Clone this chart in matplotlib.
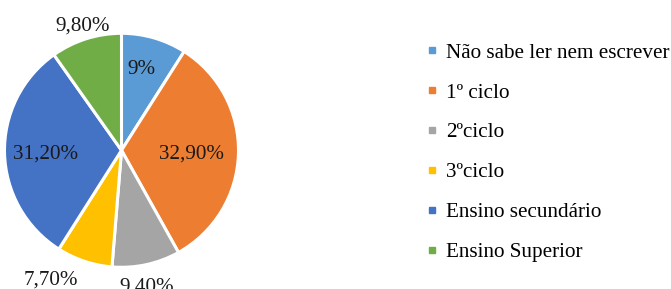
import numpy as np
import matplotlib.pyplot as plt
import matplotlib.transforms as mtransforms
from matplotlib.lines import Line2D

# data
categories = ["Não sabe ler nem escrever", "1º ciclo", "2ºciclo", "3ºciclo",
              "Ensino secundário", "Ensino Superior"]
values = [9.0, 32.9, 9.4, 7.7, 31.2, 9.8]
pct_labels = ["9%", "32,90%", "9,40%", "7,70%", "31,20%", "9,80%"]

colors = ["#5B9BD5", "#ED7D31", "#A5A5A5", "#FFC000", "#4472C4", "#70AD47"]
label_r = [0.73, 0.60, 1.17, 1.25, 0.65, 1.13]      # label distance from centre
label_turn = [2.4, 0.0, -1.6, -10.5, 0.0, -0.7]     # degrees off the wedge middle

plt.rcParams['font.family'] = ['Liberation Serif', 'DejaVu Serif']

W, H = 671, 289
fig = plt.figure(figsize=(W / 100, H / 100), dpi=100)

# pie centre in px from bottom-left, radius in px
R = 112.5
cx, cy = 121.5, 138.7
lim = 1.3
side = 2 * lim * R
ax = fig.add_axes([(cx - side / 2) / W, (cy - side / 2) / H, side / W, side / H])
ax.set_xlim(-lim, lim)
ax.set_ylim(-lim, lim)
ax.set_aspect('equal')
ax.axis('off')

wedges, _ = ax.pie(values, colors=colors, startangle=90, counterclock=False,
                   radius=1, wedgeprops=dict(edgecolor='white', linewidth=2.2))

# glyphs sit a little above the bbox centre, push them down ~2px
down = mtransforms.ScaledTranslation(0, -2 / 100, fig.dpi_scale_trans)
for w, lab, r, t in zip(wedges, pct_labels, label_r, label_turn):
    mid = np.radians((w.theta1 + w.theta2) / 2 + t)
    ax.text(r * np.cos(mid), r * np.sin(mid), lab, ha='center', va='center',
            fontsize=15.2, color='#1a1a1a', transform=ax.transData + down)

handles = [Line2D([], [], linestyle='none', marker='s', markersize=5,
                  markerfacecolor=c, markeredgecolor=c) for c in colors]
fig.legend(handles, categories, loc='upper left',
           bbox_to_anchor=(426 / W, 1 - 43 / H), frameon=False,
           fontsize=15.2, handlelength=0.6, handletextpad=0.35,
           labelspacing=0.95, borderaxespad=0, borderpad=0)

fig.savefig('out.png', dpi=100)
